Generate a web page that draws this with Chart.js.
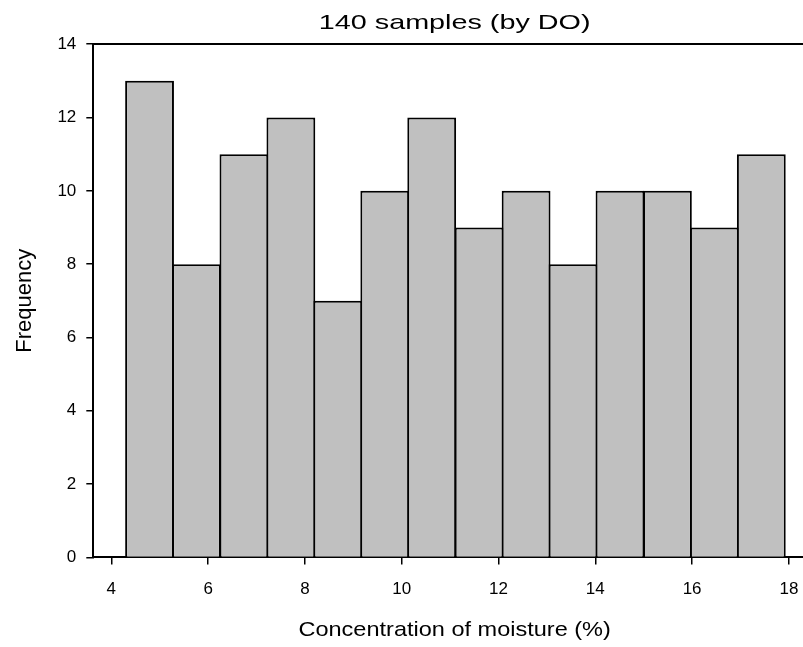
<!DOCTYPE html>
<html lang="en">
<head>
  <meta charset="UTF-8">
  <title>140 samples (by DO)</title>
  <script src="https://cdn.jsdelivr.net/npm/chart.js@4.4.1/dist/chart.umd.min.js"></script>
  <style>
  body {
    margin: 0;
    padding: 0;
    overflow: hidden;
    background: #fff;
  }
  .chart-container {
    position: relative;
    width: 820px;
    height: 647px;
  }
  </style>
</head>
<body>
<div class="chart-container">
  <canvas id="histGraph"></canvas>
</div>
<script>
  // bin centres (% moisture) and counts
  var binCenters = [4.79, 5.76, 6.74, 7.71, 8.68, 9.65, 10.62, 11.60, 12.57, 13.54, 14.51, 15.49, 16.46, 17.43];
  var counts = [13, 8, 11, 12, 7, 10, 12, 9, 10, 8, 10, 10, 9, 11];
  var xTicks = [4, 6, 8, 10, 12, 14, 16, 18];
  var yTicks = [0, 2, 4, 6, 8, 10, 12, 14];

  var font = "'Liberation Sans', Arial, Helvetica, sans-serif";

  var points = binCenters.map(function(c, i) { return {x: c, y: counts[i]}; });

  // the reference text is a bit wider than Liberation Sans, so stretch it sideways
  function wrapStretch(obj, name, sx, centerOf) {
    if (!obj || obj['_' + name + 'Wrapped']) return;
    var orig = obj[name];
    obj[name] = function() {
      var c = this.ctx;
      var cx = centerOf(this);
      c.save();
      c.translate(cx, 0);
      c.scale(sx, 1);
      c.translate(-cx, 0);
      orig.apply(this, arguments);
      c.restore();
    };
    obj['_' + name + 'Wrapped'] = true;
  }

  var stretchText = {
    id: 'stretchText',
    afterLayout: function(chart) {
      wrapStretch(chart.titleBlock, 'draw', 1.37, function(b) { return (b.left + b.right) / 2; });
      wrapStretch(chart.scales.x, 'drawTitle', 1.12, function(s) { return (s.left + s.right) / 2; });
    }
  };

  var options = {
    responsive: false,
    animation: false,
    layout: {
      padding: {left: 0, right: 4, top: 0, bottom: 4}
    },
    scales: {
      x: {
        type: 'linear',
        min: 3.628,
        max: 18.56,
        offset: false,
        afterBuildTicks: function(axis) {
          axis.ticks = xTicks.map(function(v) { return {value: v}; });
        },
        ticks: {
          color: '#000',
          padding: 15,
          maxRotation: 0,
          font: {family: font, size: 17}
        },
        grid: {
          display: true,
          offset: false,
          drawOnChartArea: false,
          drawTicks: true,
          tickLength: 7,
          color: '#000',
          lineWidth: 1.5
        },
        border: {display: true, color: '#000', width: 2},
        title: {
          display: true,
          text: 'Concentration of moisture (%)',
          color: '#000',
          padding: {top: 3, bottom: 0},
          font: {family: font, size: 21}
        }
      },
      xTop: {
        type: 'linear',
        position: 'top',
        min: 3.628,
        max: 18.56,
        ticks: {display: false},
        grid: {display: false, drawTicks: false},
        border: {display: true, color: '#000', width: 2}
      },
      y: {
        min: 0,
        max: 14,
        afterBuildTicks: function(axis) {
          axis.ticks = yTicks.map(function(v) { return {value: v}; });
        },
        ticks: {
          color: '#000',
          padding: 10,
          font: {family: font, size: 17}
        },
        grid: {
          display: true,
          drawOnChartArea: false,
          drawTicks: true,
          tickLength: 7,
          color: '#000',
          lineWidth: 1.5
        },
        border: {display: true, color: '#000', width: 2},
        title: {
          display: true,
          text: 'Frequency',
          color: '#000',
          padding: {top: 12, bottom: 9},
          font: {family: font, size: 22}
        }
      }
    },
    plugins: {
      legend: {display: false},
      tooltip: {enabled: false},
      title: {
        display: true,
        fullSize: false,
        text: '140 samples (by DO)',
        color: '#000',
        padding: {top: 11, bottom: 8},
        font: {family: font, size: 21, weight: 'normal'}
      }
    }
  };

  var ctx = document.getElementById('histGraph');
  ctx.width = 820;
  ctx.height = 647;
  var TheHist = new Chart(ctx, {
    type: 'bar',
    options: options,
    plugins: [stretchText],
    data: {
      datasets: [{
        label: 'Frequency',
        data: points,
        backgroundColor: '#c0c0c0',
        borderColor: '#000',
        borderWidth: 2,
        barPercentage: 1.04,
        categoryPercentage: 1.0
      }]
    }
  });
</script>
</body>
</html>
